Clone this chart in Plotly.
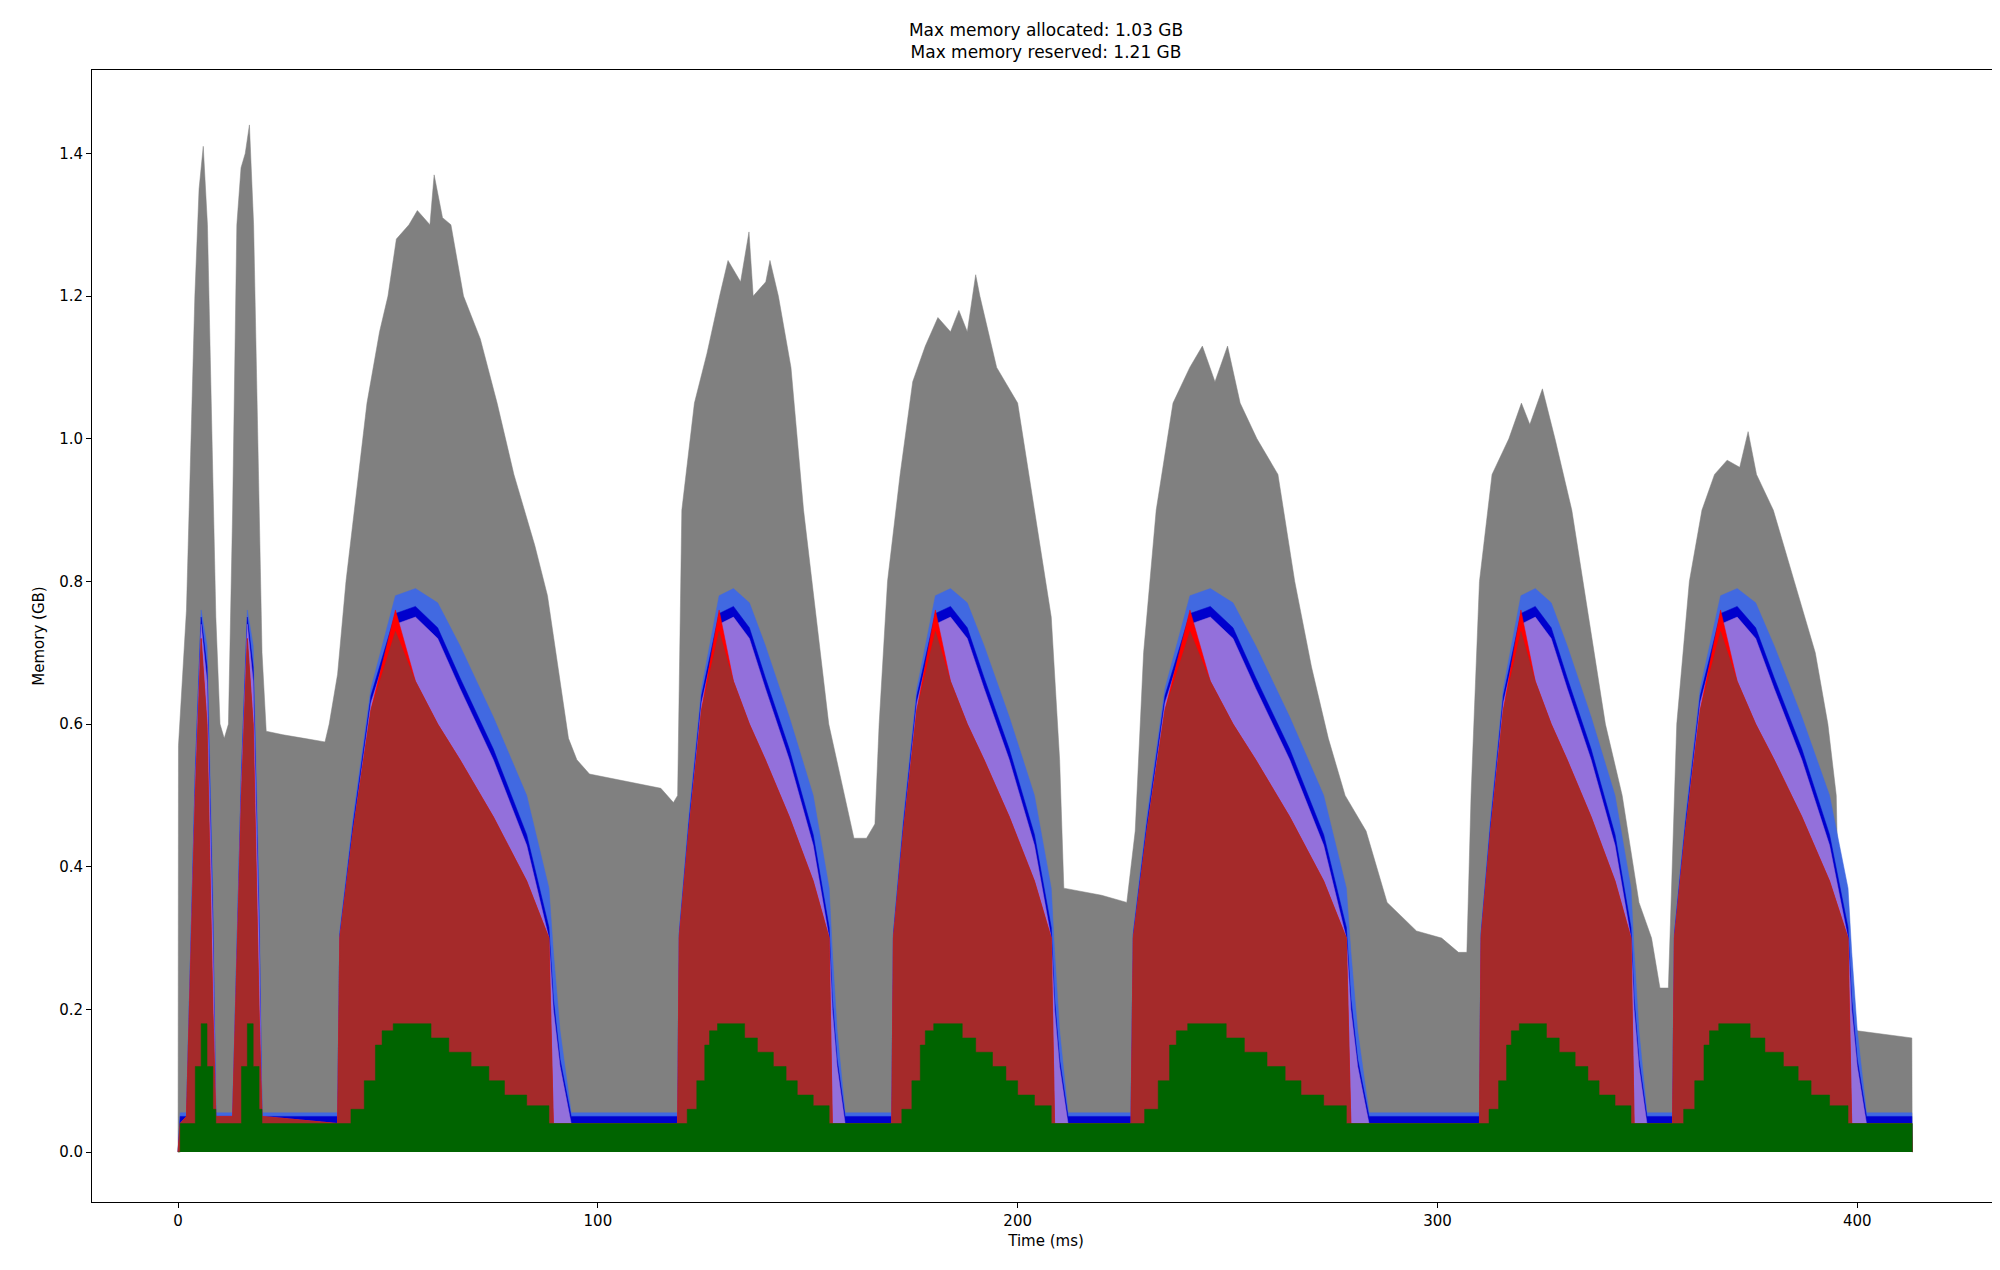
import plotly.graph_objects as go

# reserved memory outline (grey): time (ms), GB
gray_t = [0, 0.1, 2, 4, 5, 6, 7, 8, 9, 10, 11, 12, 13, 14, 15, 16, 17, 18, 19, 20, 21, 25, 30, 35, 36, 38, 40, 42, 45, 48, 50, 52, 55, 57, 60, 61, 63, 65, 68, 72, 76, 80, 85, 88, 90, 93, 95, 98, 115, 118,
          119, 120, 123, 126, 129, 131, 134, 136, 137, 140, 141, 143, 146, 149, 152, 155, 158, 161, 164, 166, 167, 169, 172, 175, 178, 181, 184, 186, 188, 190, 191, 195, 200, 204, 208, 210, 211, 220, 226,
          228, 230, 233, 237, 241, 244, 247, 250, 253, 257, 262, 266, 270, 274, 278, 283, 288, 295, 301, 305, 307, 308, 310, 313, 317, 320, 322, 325, 328, 332, 336, 340, 344, 348, 351, 353, 355,
          357, 360, 363, 366, 369, 372, 374, 376, 380, 385, 390, 393, 395, 396, 400, 413, 413.1]
gray_v = [0, 0.57, 0.76, 1.2, 1.35, 1.41, 1.3, 1.0, 0.75, 0.6, 0.58, 0.6, 0.9, 1.3, 1.38, 1.4, 1.44, 1.3, 1.0, 0.7, 0.59, 0.585, 0.58, 0.575, 0.6, 0.67, 0.8, 0.9, 1.05, 1.15, 1.2, 1.28, 1.3, 1.32, 1.3, 1.37, 1.31, 1.3, 1.2, 1.14, 1.05, 0.95, 0.85, 0.78, 0.7, 0.58, 0.55, 0.53, 0.51, 0.49,
          0.5, 0.9, 1.05, 1.12, 1.2, 1.25, 1.22, 1.29, 1.2, 1.22, 1.25, 1.2, 1.1, 0.9, 0.75, 0.6, 0.52, 0.44, 0.44, 0.46, 0.6, 0.8, 0.95, 1.08, 1.13, 1.17, 1.15, 1.18, 1.15, 1.23, 1.2, 1.1, 1.05, 0.9, 0.75, 0.55, 0.37, 0.36, 0.35,
          0.45, 0.7, 0.9, 1.05, 1.1, 1.13, 1.08, 1.13, 1.05, 1.0, 0.95, 0.8, 0.68, 0.58, 0.5, 0.45, 0.35, 0.31, 0.3, 0.28, 0.28, 0.5, 0.8, 0.95, 1.0, 1.05, 1.02, 1.07, 1.0, 0.9, 0.75, 0.6, 0.5, 0.35, 0.3, 0.23, 0.23,
          0.6, 0.8, 0.9, 0.95, 0.97, 0.96, 1.01, 0.95, 0.9, 0.8, 0.7, 0.6, 0.5, 0.2, 0.17, 0.16, 0]

# training step windows (start, width in ms)
spike_start = [2, 13]
spike_width = [7, 7]
cycle_start = [38, 119, 170, 227, 310, 356]
cycle_width = [53, 38, 40, 54, 38, 44]
end_time = 413

# layer tops within a spike / cycle (fraction of the window, GB)
spike_frac = [0, 0.3, 0.5, 0.7, 0.9, 1.0]
spike_green = [0.04, 0.12, 0.18, 0.12, 0.06, 0.04]
spike_brown = [0.05, 0.5, 0.72, 0.6, 0.2, 0.05]
spike_purple = [0.05, 0.52, 0.74, 0.66, 0.3, 0.05]
spike_dblue = [0.05, 0.53, 0.75, 0.68, 0.32, 0.05]
spike_rblue = [0.055, 0.54, 0.76, 0.71, 0.36, 0.055]

cycle_frac = [0, 0.01, 0.07, 0.15, 0.26, 0.35, 0.45, 0.55, 0.7, 0.85, 0.95, 0.97, 1.0, 1.05]
cycle_brown = [0.04, 0.3, 0.45, 0.62, 0.73, 0.66, 0.6, 0.55, 0.47, 0.38, 0.3, 0.04, 0.04, 0.04]
cycle_red = [0.04, 0.3, 0.45, 0.62, 0.76, 0.66, 0.6, 0.55, 0.47, 0.38, 0.3, 0.04, 0.04, 0.04]
cycle_purple = [0.04, 0.3, 0.45, 0.63, 0.74, 0.75, 0.72, 0.65, 0.55, 0.43, 0.3, 0.2, 0.12, 0.04]
cycle_dblue = [0.05, 0.305, 0.46, 0.64, 0.755, 0.765, 0.735, 0.665, 0.565, 0.445, 0.315, 0.215, 0.13, 0.05]
cycle_rblue = [0.055, 0.31, 0.47, 0.65, 0.78, 0.79, 0.77, 0.71, 0.61, 0.5, 0.37, 0.28, 0.17, 0.055]

green_frac = [0, 0.06, 0.12, 0.17, 0.2, 0.25, 0.4, 0.42, 0.5, 0.6, 0.68, 0.75, 0.85, 0.95]
cycle_green = [0.04, 0.06, 0.1, 0.15, 0.17, 0.18, 0.18, 0.16, 0.14, 0.12, 0.1, 0.08, 0.065, 0.04]


def build_layer(base, sp_frac, sp_vals, cy_frac, cy_vals):
    xs, ys = [0, 0.5], [0, base]
    for s, w in zip(spike_start, spike_width):
        xs += [s + f * w for f in sp_frac]
        ys += sp_vals
    for s, w in zip(cycle_start, cycle_width):
        xs += [s + f * w for f in cy_frac]
        ys += cy_vals
    xs += [end_time, end_time + 0.1]
    ys += [base, 0]
    return xs, ys


layers = [
    ("gray", gray_t, gray_v, "linear"),
    ("royalblue",) + build_layer(0.055, spike_frac, spike_rblue, cycle_frac, cycle_rblue) + ("linear",),
    ("mediumblue",) + build_layer(0.05, spike_frac, spike_dblue, cycle_frac, cycle_dblue) + ("linear",),
    ("mediumpurple",) + build_layer(0.04, spike_frac, spike_purple, cycle_frac, cycle_purple) + ("linear",),
    ("red",) + build_layer(0.04, spike_frac, spike_brown, cycle_frac, cycle_red) + ("linear",),
    ("brown",) + build_layer(0.04, spike_frac, spike_brown, cycle_frac, cycle_brown) + ("linear",),
    ("darkgreen",) + build_layer(0.04, spike_frac, spike_green, green_frac, cycle_green) + ("hv",),
]

fig = go.Figure()
for color, xs, ys, shape in layers:
    fig.add_trace(go.Scatter(x=xs, y=ys, mode="lines", fill="tozeroy",
                             fillcolor=color, line=dict(color=color, width=0.5, shape=shape),
                             showlegend=False, hoverinfo="skip"))

axis_style = dict(showline=True, linecolor="black", linewidth=1, mirror=True,
                  ticks="outside", ticklen=5, tickcolor="black", showgrid=False,
                  zeroline=False, tickfont=dict(size=15))
fig.update_layout(
    width=2000, height=1270,
    margin=dict(l=84, r=8, t=62, b=76),
    paper_bgcolor="white", plot_bgcolor="white",
    font=dict(family="DejaVu Sans", color="black"),
    title=dict(text="Max memory allocated: 1.03 GB<br>Max memory reserved: 1.21 GB",
               x=0.5, xref="paper", y=0.978, yanchor="middle", font=dict(size=17)),
    xaxis=dict(range=[-20.5, 434], tickvals=[0, 100, 200, 300, 400],
               title=dict(text="Time (ms)", font=dict(size=15), standoff=6), **axis_style),
    yaxis=dict(range=[-0.07, 1.517], tickvals=[0, 0.2, 0.4, 0.6, 0.8, 1.0, 1.2, 1.4],
               tickformat=".1f",
               title=dict(text="Memory (GB)", font=dict(size=15), standoff=10), **axis_style),
)

fig.write_html("out.html")
